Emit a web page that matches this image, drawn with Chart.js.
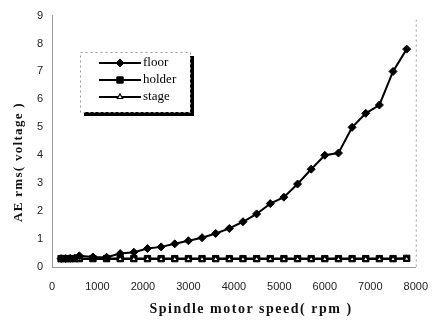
<!DOCTYPE html>
<html>
<head>
<meta charset="utf-8">
<script src="https://cdn.jsdelivr.net/npm/chart.js@4.4.1/dist/chart.umd.min.js"></script>
<style>
  html, body { margin: 0; padding: 0; background: #fff; }
  #wrap { position: relative; width: 441px; height: 322px; }
</style>
</head>
<body>
<div id="wrap"><canvas id="aeChart" width="441" height="322"></canvas></div>
<script>
// spindle speed (rpm)
const speeds = [200, 300, 400, 500, 600, 900, 1200, 1500, 1800, 2100, 2400, 2700, 3000, 3300,
  3600, 3900, 4200, 4500, 4800, 5100, 5400, 5700, 6000, 6300, 6600, 6900, 7200, 7500, 7800];

// AE rms (voltage)
const floorVals  = [0.30, 0.30, 0.31, 0.32, 0.40, 0.36, 0.35, 0.48, 0.53, 0.66, 0.72, 0.83, 0.94, 1.05,
  1.20, 1.38, 1.62, 1.90, 2.27, 2.50, 2.97, 3.50, 4.00, 4.08, 5.00, 5.50, 5.80, 7.00, 7.80];
const holderVals = [0.30, 0.30, 0.30, 0.30, 0.30, 0.30, 0.30, 0.30, 0.30, 0.30, 0.30, 0.30, 0.30, 0.30,
  0.30, 0.30, 0.30, 0.30, 0.30, 0.30, 0.30, 0.30, 0.30, 0.30, 0.30, 0.30, 0.30, 0.30, 0.31];
const stageVals  = [0.28, 0.28, 0.28, 0.28, 0.28, 0.28, 0.28, 0.28, 0.28, 0.28, 0.28, 0.28, 0.28, 0.28,
  0.28, 0.28, 0.28, 0.28, 0.28, 0.28, 0.28, 0.28, 0.28, 0.28, 0.28, 0.28, 0.28, 0.28, 0.29];

const seriesNames = ['floor', 'holder', 'stage'];
const xTicks = [0, 1000, 2000, 3000, 4000, 5000, 6000, 7000, 8000];
const yTicks = [0, 1, 2, 3, 4, 5, 6, 7, 8, 9];

const xTitle = 'Spindle motor speed( rpm )';
const yTitle = 'AE rms( voltage )';

const toPts = vals => vals.map((v, i) => ({ x: speeds[i], y: v }));

// dashed right edge of the frame + both axis titles
const framePlugin = {
  id: 'frame',
  afterDraw(chart) {
    const { ctx, chartArea: a } = chart;
    ctx.save();
    ctx.strokeStyle = '#9a9a9a';
    ctx.lineWidth = 1;
    ctx.setLineDash([2, 3]);
    ctx.beginPath();
    ctx.moveTo(a.right + 0.5, a.top + 4);
    ctx.lineTo(a.right + 0.5, a.bottom);
    ctx.stroke();
    ctx.restore();

    ctx.save();
    ctx.fillStyle = '#111';
    ctx.font = 'bold 13px "Liberation Serif", serif';
    ctx.letterSpacing = '1.3px';
    ctx.textAlign = 'center';
    ctx.textBaseline = 'middle';
    ctx.translate(19, 162);
    ctx.rotate(-Math.PI / 2);
    ctx.fillText(yTitle, 0, 0);
    ctx.restore();

    ctx.save();
    ctx.fillStyle = '#111';
    ctx.font = 'bold 14px "Liberation Serif", serif';
    ctx.letterSpacing = '1.5px';
    ctx.textAlign = 'center';
    ctx.textBaseline = 'middle';
    ctx.fillText(xTitle, 251, 309);
    ctx.restore();
  }
};

// boxed legend with drop shadow, as in the figure
const legendPlugin = {
  id: 'boxLegend',
  afterDraw(chart) {
    const { ctx } = chart;
    const bx = 80, by = 52, bw = 110, bh = 60;
    ctx.save();
    ctx.fillStyle = '#000';
    ctx.fillRect(bx + 4, by + bh, bw, 4);
    ctx.fillRect(bx + bw, by + 4, 4, bh);
    ctx.fillStyle = '#fff';
    ctx.fillRect(bx, by, bw, bh);
    ctx.strokeStyle = '#999';
    ctx.lineWidth = 1;
    ctx.setLineDash([2, 3]);
    ctx.strokeRect(bx + 0.5, by + 0.5, bw, bh);
    ctx.setLineDash([]);

    chart.data.datasets.forEach((ds, i) => {
      const y = by + 11 + i * 17;
      ctx.strokeStyle = '#000';
      ctx.lineWidth = 2;
      ctx.beginPath();
      ctx.moveTo(bx + 19, y);
      ctx.lineTo(bx + 61, y);
      ctx.stroke();
      ctx.fillStyle = ds.pointBackgroundColor;
      ctx.strokeStyle = ds.pointBorderColor;
      ctx.lineWidth = ds.pointBorderWidth;
      Chart.helpers.drawPoint(ctx, {
        pointStyle: ds.pointStyle,
        radius: ds.pointRadius,
        borderWidth: ds.pointBorderWidth
      }, bx + 40, y);
      ctx.fillStyle = '#000';
      ctx.font = '13px "Liberation Serif", serif';
      ctx.textBaseline = 'middle';
      ctx.textAlign = 'left';
      ctx.fillText(ds.label, bx + 63, y);
    });
    ctx.restore();
  }
};

const ctx = document.getElementById('aeChart');

new Chart(ctx, {
  type: 'line',
  data: {
    datasets: [
      {
        label: seriesNames[0],
        data: toPts(floorVals),
        order: 0,
        borderColor: '#000',
        borderWidth: 2,
        pointStyle: 'rectRot',
        pointRadius: 4,
        pointBackgroundColor: '#000',
        pointBorderColor: '#000',
        pointBorderWidth: 1
      },
      {
        label: seriesNames[1],
        data: toPts(holderVals),
        order: 2,
        borderColor: '#000',
        borderWidth: 2,
        pointStyle: 'rect',
        pointRadius: 4.5,
        pointBackgroundColor: '#000',
        pointBorderColor: '#000',
        pointBorderWidth: 1
      },
      {
        label: seriesNames[2],
        data: toPts(stageVals),
        order: 1,
        borderColor: '#000',
        borderWidth: 1.5,
        pointStyle: 'triangle',
        pointRadius: 3,
        pointBackgroundColor: '#fff',
        pointBorderColor: '#000',
        pointBorderWidth: 1.2
      }
    ]
  },
  options: {
    responsive: false,
    animation: false,
    layout: { padding: { top: 15, right: 15, left: 0, bottom: 0 } },
    plugins: { legend: { display: false }, tooltip: { enabled: false } },
    scales: {
      x: {
        type: 'linear',
        min: 0,
        max: 8000,
        afterBuildTicks: s => { s.ticks = xTicks.map(v => ({ value: v })); },
        afterFit: s => { s.height = 55; },
        grid: { display: false, drawTicks: false },
        border: { display: true, color: '#9a9a9a', dash: [2, 3] },
        ticks: {
          padding: 13, color: '#222', font: { family: 'Liberation Sans', size: 11 },
          callback: v => String(v)
        }
      },
      y: {
        min: 0,
        max: 9,
        afterBuildTicks: s => { s.ticks = yTicks.map(v => ({ value: v })); },
        afterFit: s => { s.width = 52; },
        grid: { display: false, drawTicks: false },
        border: { display: true, color: '#9a9a9a', dash: [2, 3] },
        ticks: { padding: 9, color: '#222', font: { family: 'Liberation Sans', size: 11 } }
      }
    }
  },
  plugins: [framePlugin, legendPlugin]
});
</script>
</body>
</html>
